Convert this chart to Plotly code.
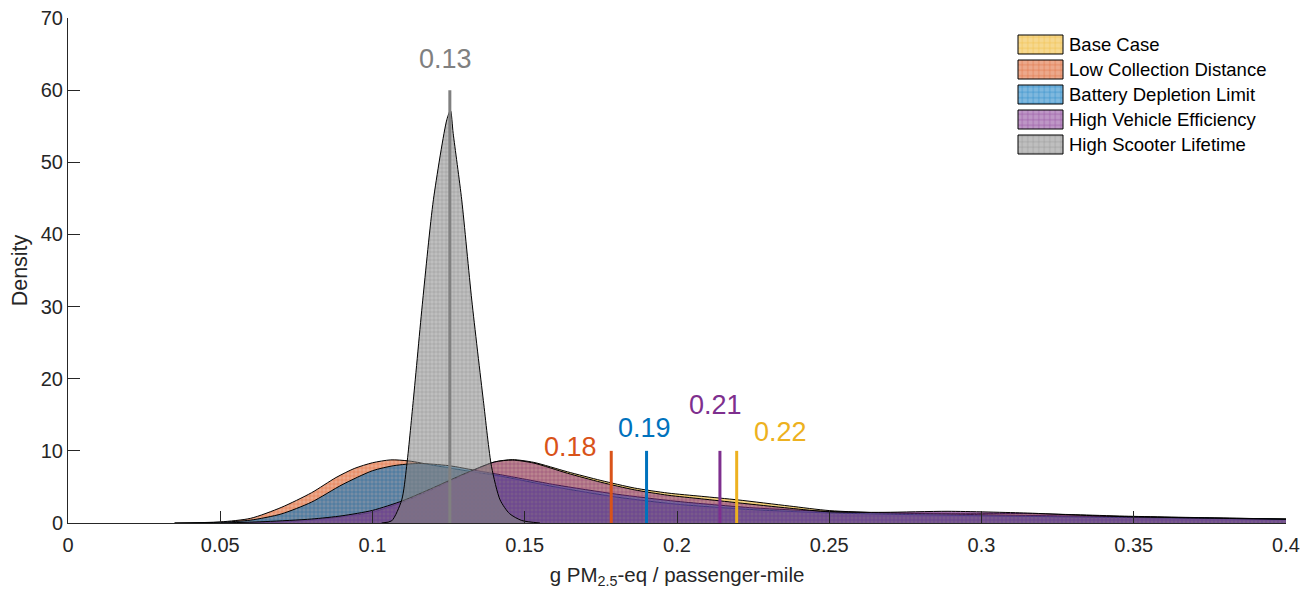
import plotly.graph_objects as go

# ---------------- data ----------------
series_names = ["Base Case", "Low Collection Distance", "Battery Depletion Limit",
                "High Vehicle Efficiency", "High Scooter Lifetime"]
series_colors = ["#EDB120", "#D95319", "#0072BD", "#7E2F8E", "#808080"]

base_x = [0.055, 0.07, 0.08, 0.09, 0.1, 0.11, 0.12, 0.13, 0.14, 0.146, 0.153, 0.164, 0.175,
          0.186, 0.197, 0.208, 0.22, 0.237, 0.25, 0.268, 0.289, 0.315, 0.331, 0.347, 0.378, 0.4]
base_y = [0, 0.15, 0.4, 0.85, 1.5, 2.9, 4.7, 6.7, 8.45, 8.78, 8.4, 7.1, 5.9,
          4.85, 4.15, 3.7, 3.2, 2.35, 1.72, 1.4, 1.35, 1.3, 1.15, 0.95, 0.7, 0.55]

lowcoll_x = [0.035, 0.05, 0.06, 0.07, 0.08, 0.088, 0.094, 0.1, 0.106, 0.112, 0.12, 0.13,
             0.142, 0.16, 0.18, 0.2, 0.225, 0.25, 0.3, 0.35, 0.4]
lowcoll_y = [0, 0.15, 0.65, 2.15, 4.2, 6.3, 7.55, 8.35, 8.75, 8.6, 8.0, 7.3,
             6.5, 5.0, 3.6, 2.6, 1.85, 1.4, 1.0, 0.75, 0.5]

battery_x = [0.035, 0.05, 0.06, 0.07, 0.08, 0.09, 0.1, 0.107, 0.115, 0.125, 0.135, 0.142,
             0.16, 0.18, 0.2, 0.225, 0.25, 0.3, 0.35, 0.4]
battery_y = [0, 0.1, 0.4, 1.25, 2.9, 5.3, 7.25, 7.95, 8.25, 7.95, 7.2, 6.7,
             5.3, 4.0, 3.0, 2.1, 1.6, 1.15, 0.85, 0.55]

vehicle_x = [0.05, 0.065, 0.08, 0.09, 0.1, 0.11, 0.12, 0.13, 0.14, 0.146, 0.153, 0.164, 0.175,
             0.186, 0.197, 0.208, 0.22, 0.237, 0.25, 0.268, 0.289, 0.315, 0.331, 0.347, 0.378, 0.4]
vehicle_y = [0, 0.2, 0.55, 1.0, 1.75, 3.1, 4.9, 6.8, 8.45, 8.72, 8.3, 6.9, 5.65,
             4.6, 3.85, 3.35, 2.8, 2.05, 1.55, 1.48, 1.62, 1.38, 1.1, 0.88, 0.65, 0.5]

lifetime_x = [0.103, 0.1063, 0.1096, 0.1112, 0.1134, 0.1165, 0.120, 0.1244, 0.1256, 0.1265,
              0.1293, 0.1326, 0.1364, 0.1391, 0.1419, 0.145, 0.149, 0.155]
lifetime_y = [0, 0.3, 3.2, 7.8, 17, 30.9, 44.8, 55.9, 57.2, 54,
              44.8, 30.9, 17, 7.8, 3.2, 1.3, 0.35, 0]

medians = [0.2196, 0.1784, 0.1900, 0.2141, 0.1254]
median_line_tops = [10, 10, 10, 10, 60]

x_ticks = [0, 0.05, 0.1, 0.15, 0.2, 0.25, 0.3, 0.35, 0.4]
y_ticks = [0, 10, 20, 30, 40, 50, 60, 70]

# ---------------- styling (layout only) ----------------
label_shifts = [(44, 19), (-41, 4), (-2, 23), (-4, 46), (-4, 31)]  # px offsets of median labels
FONT = "Liberation Sans, Arial, sans-serif"
AX_COLOR = "#262626"
PAGE_OFFSET = 8  # default page margin around the figure div


def rgba(hex_color, a):
    h = hex_color.lstrip("#")
    r, g, b = int(h[0:2], 16), int(h[2:4], 16), int(h[4:6], 16)
    return f"rgba({r},{g},{b},{a})"


curves = [(base_x, base_y), (lowcoll_x, lowcoll_y), (battery_x, battery_y),
          (vehicle_x, vehicle_y), (lifetime_x, lifetime_y)]

fig = go.Figure()

for name, col, (xs, ys) in zip(series_names, series_colors, curves):
    fig.add_trace(go.Scatter(
        x=xs, y=ys, name=name, mode="lines", fill="tozeroy",
        line=dict(color="black", width=1, shape="spline", smoothing=0.7),
        fillcolor=rgba(col, 0.5),
        fillpattern=dict(shape="+", size=4, solidity=0.25, fillmode="overlay",
                         bgcolor=rgba(col, 0.5), fgcolor=col, fgopacity=0.6),
        showlegend=False, hoverinfo="x+y+name",
    ))

for name, col, m, top, (dx, dy) in zip(series_names, series_colors, medians,
                                       median_line_tops, label_shifts):
    fig.add_trace(go.Scatter(
        x=[m, m], y=[0, top], mode="lines", line=dict(color=col, width=3),
        showlegend=False, hoverinfo="x", name=name + " median",
    ))
    fig.add_annotation(x=m, y=top, xref="x", yref="y", text=f"{m:.2f}",
                       showarrow=False, xshift=dx, yshift=dy,
                       xanchor="center", yanchor="middle",
                       font=dict(family=FONT, size=27, color=col))

# ---------------- custom legend (pixel coordinate overlay axes) ----------------
PLOT_W, PLOT_H = 1218, 505
leg_x0, leg_w, leg_y0, leg_h, leg_pitch = 950, 45, 17, 19, 25
for i, (name, col) in enumerate(zip(series_names, series_colors)):
    y0 = leg_y0 + i * leg_pitch
    y1 = y0 + leg_h
    fig.add_trace(go.Scatter(
        x=[leg_x0, leg_x0 + leg_w, leg_x0 + leg_w, leg_x0, leg_x0],
        y=[y0, y0, y1, y1, y0], xaxis="x2", yaxis="y2", mode="lines", fill="toself",
        line=dict(color="black", width=1),
        fillcolor=rgba(col, 0.5),
        fillpattern=dict(shape="+", size=5.5, solidity=0.2, fillmode="overlay",
                         bgcolor=rgba(col, 0.5), fgcolor=col, fgopacity=0.6),
        showlegend=False, hoverinfo="skip",
    ))
    fig.add_annotation(x=leg_x0 + leg_w + 4, y=(y0 + y1) / 2, xref="x2", yref="y2",
                       text=name, showarrow=False, xanchor="left", yanchor="middle",
                       font=dict(family=FONT, size=18.5, color="black"))

fig.update_layout(
    width=1315, height=599,
    margin=dict(l=68 - PAGE_OFFSET, r=29 + PAGE_OFFSET, t=18 - PAGE_OFFSET, b=76 + PAGE_OFFSET),
    paper_bgcolor="white", plot_bgcolor="white",
    font=dict(family=FONT, color=AX_COLOR),
    showlegend=False,
    xaxis=dict(range=[0, 0.4], tickvals=x_ticks, ticktext=[f"{v:g}" for v in x_ticks],
               ticks="inside", ticklen=12, tickwidth=1, tickcolor=AX_COLOR,
               showline=True, linecolor=AX_COLOR, linewidth=1.3, mirror=False,
               showgrid=False, zeroline=False, automargin=False, ticklabelstandoff=4,
               ticklabeloverflow="allow",
               tickfont=dict(family=FONT, size=20, color=AX_COLOR),
               title=dict(text="g PM<sub>2.5</sub>-eq / passenger-mile",
                          font=dict(family=FONT, size=20.5, color=AX_COLOR), standoff=12)),
    yaxis=dict(range=[0, 70], tickvals=y_ticks,
               ticks="inside", ticklen=12, tickwidth=1, tickcolor=AX_COLOR,
               showline=True, linecolor=AX_COLOR, linewidth=1, mirror=False,
               showgrid=False, zeroline=False, automargin=False,
               ticklabeloverflow="allow",
               tickfont=dict(family=FONT, size=20, color=AX_COLOR),
               title=dict(text="Density", font=dict(family=FONT, size=21.5, color=AX_COLOR),
                          standoff=9)),
    xaxis2=dict(overlaying="x", anchor="y2", range=[0, PLOT_W], visible=False,
                fixedrange=True, automargin=False),
    yaxis2=dict(overlaying="y", anchor="x2", range=[PLOT_H, 0], visible=False,
                fixedrange=True, automargin=False),
)

fig.write_html("out.html")
